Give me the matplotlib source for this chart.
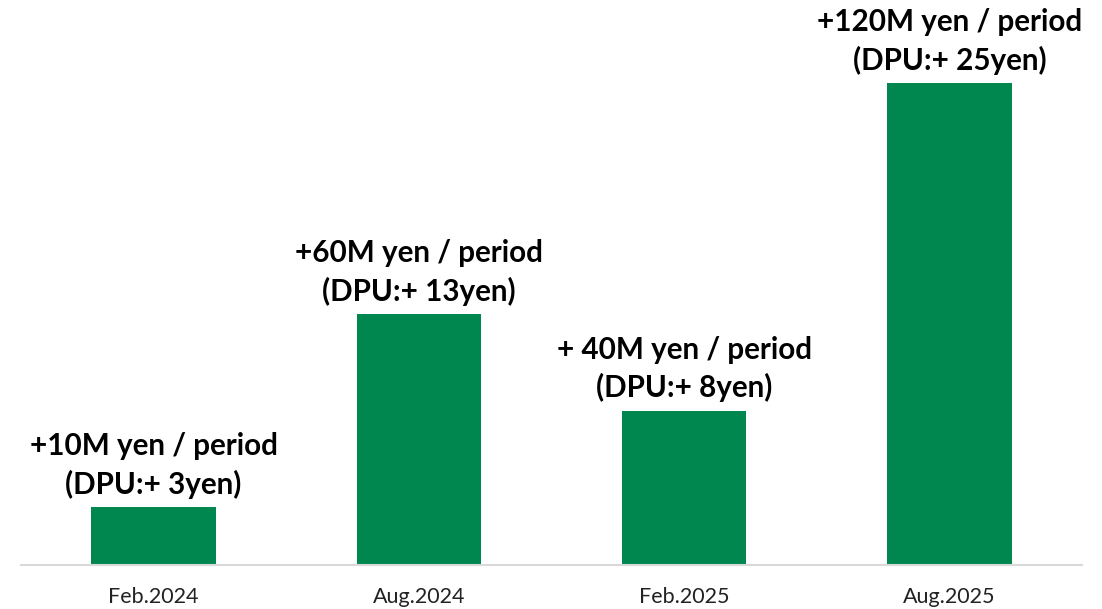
import matplotlib.pyplot as plt

plt.rcParams['font.family'] = ['Lato', 'DejaVu Sans']

periods = ['Feb.2024', 'Aug.2024', 'Feb.2025', 'Aug.2025']
dpu = [3, 13, 8, 25]
labels = ['+10M yen / period\n(DPU:+ 3yen)',
          '+60M yen / period\n(DPU:+ 13yen)',
          '+ 40M yen / period\n(DPU:+ 8yen)',
          '+120M yen / period\n(DPU:+ 25yen)']

fig = plt.figure(figsize=(11.02, 6.09), dpi=100)
ax = fig.add_axes([21 / 1102, 44 / 609, 1061 / 1102, 555 / 609])

x = range(len(periods))
bars = ax.bar(x, dpu, width=0.47, color='#00874F')

for b, txt in zip(bars, labels):
    ax.annotate(txt, (b.get_x() + b.get_width() / 2, b.get_height()),
                xytext=(0, 6), textcoords='offset points',
                ha='center', va='bottom', fontsize=21.3, fontweight='bold',
                linespacing=1.4, color='black')

ax.set_xlim(-0.5, 3.5)
ax.set_ylim(0, 555 / 19.28)
ax.set_xticks(list(x))
ax.set_xticklabels(periods, fontsize=15.5, color='#222222')
ax.tick_params(axis='x', length=0, pad=16)
ax.set_yticks([])
for s in ['top', 'right', 'left']:
    ax.spines[s].set_visible(False)
ax.spines['bottom'].set_color('#d9d9d9')
ax.spines['bottom'].set_linewidth(1.5)

fig.savefig('out.png', dpi=100)
